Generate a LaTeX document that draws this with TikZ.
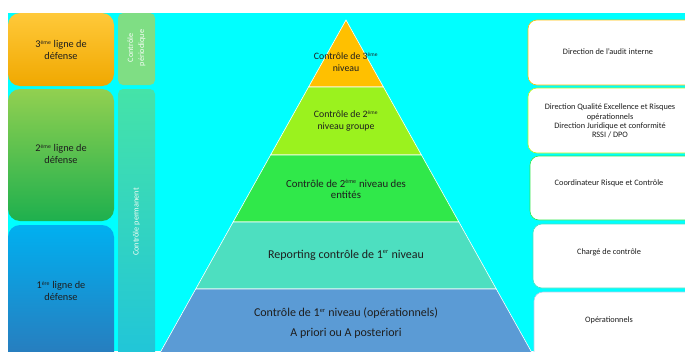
\documentclass[tikz,border=0pt]{standalone}
\usepackage{fontspec}
\setmainfont{Carlito}
\newcommand\myexp[1]{\textsuperscript{\scalebox{0.8}{#1}}}
\definecolor{bgcyan}{HTML}{00FFFF}
\definecolor{tOrange}{HTML}{FFC000}
\definecolor{tLime}{HTML}{9BF21E}
\definecolor{tGreen}{HTML}{30E84A}
\definecolor{tTeal}{HTML}{4DDFC0}
\definecolor{tBlue}{HTML}{5B9BD5}
\definecolor{oTop}{HTML}{FFC93A}
\definecolor{oBot}{HTML}{F0A800}
\definecolor{gTop}{HTML}{92D050}
\definecolor{gBot}{HTML}{1EB04E}
\definecolor{bTop}{HTML}{00B0F0}
\definecolor{bBot}{HTML}{2E75B6}
\definecolor{perio}{HTML}{7FDE84}
\definecolor{permTop}{HTML}{45E3A8}
\definecolor{permBot}{HTML}{1EC3DC}
\definecolor{txt}{HTML}{1E1E1E}
\begin{document}
\begin{tikzpicture}[x=1pt,y=-1pt,
  leftbox/.style={rounded corners=12pt},
  vbox/.style={rounded corners=5pt},
  tier/.style={draw=white, line width=0.6pt},
  rbox/.style={fill=white, rounded corners=9pt, line width=0.6pt},
  lefttxt/.style={align=center, font=\fontsize{10.3}{12}\selectfont, text=txt},
  ptxt/.style={align=center, font=\fontsize{9.8}{12}\selectfont, text=txt},
  pmid/.style={align=center, font=\fontsize{10.8}{11.5}\selectfont, text=txt},
  pbig/.style={align=center, font=\fontsize{12}{20}\selectfont, text=txt},
  rtxt/.style={align=center, font=\fontsize{8.3}{9.4}\selectfont, text=txt},
  vtxt/.style={align=center, rotate=90, font=\fontsize{8.2}{11}\selectfont, text=white!92!perio}]
\useasboundingbox (0,0) rectangle (685,351);
\begin{scope}
\clip (0,0) rectangle (685,351);
\fill[white] (0,0) rectangle (685,351);
\fill[bgcyan] (8,13) rectangle (685,351);
% left boxes
\shade[leftbox, top color=oTop, bottom color=oBot] (8,13) rectangle (114,86);
\shade[leftbox, top color=gTop, bottom color=gBot] (8,89) rectangle (114,221);
\shade[leftbox, top color=bTop, bottom color=bBot] (8,225) rectangle (114,375);
% vertical boxes
\fill[vbox, perio] (118,13) rectangle (155,85);
\shade[vbox, top color=permTop, bottom color=permBot] (118,89) rectangle (155,375);
% pyramid
\filldraw[tier, fill=tOrange] (346,20) -- (383.45,87) -- (308.55,87) -- cycle;
\filldraw[tier, fill=tLime] (308.55,87) -- (383.45,87) -- (421.45,155) -- (270.55,155) -- cycle;
\filldraw[tier, fill=tGreen] (270.55,155) -- (421.45,155) -- (458.9,222) -- (233.1,222) -- cycle;
\filldraw[tier, fill=tTeal] (233.1,222) -- (458.9,222) -- (496.3,289) -- (195.7,289) -- cycle;
\filldraw[tier, fill=tBlue] (195.7,289) -- (496.3,289) -- (541.6,370) -- (150.4,370) -- cycle;
% right boxes
\draw[rbox, draw=tOrange] (528,20) rectangle (694,85);
\draw[rbox, draw=tLime!70!yellow] (528,88) rectangle (694,153);
\draw[rbox, draw=tGreen] (530,156) rectangle (694,220);
\draw[rbox, draw=tTeal] (533,224) rectangle (694,288);
\draw[rbox, draw=tBlue!50!white] (534,292) rectangle (694,370);
\end{scope}
% left texts
\node[lefttxt] (l3) at (61,50) {3\myexp{ème} ligne de\\défense};
\node[lefttxt] (l2) at (61,154) {2\myexp{ème} ligne de\\défense};
\node[lefttxt] (l1) at (61,291) {1\myexp{ère} ligne de\\défense};
% vertical texts
\node[vtxt] (vp) at (136.5,48) {Contrôle\\périodique};
\node[vtxt] (vm) at (136.5,222) {Contrôle permanent};
% pyramid texts
\node[ptxt] (p3) at (346,62) {Contrôle de 3\myexp{ème}\\niveau};
\node[ptxt] (p2) at (346,121) {Contrôle de 2\myexp{ème}\\niveau groupe};
\node[pmid] (p2e) at (346,189) {Contrôle de 2\myexp{ème} niveau des\\entités};
\node[pbig] (p1r) at (346,255) {Reporting contrôle de 1\myexp{er} niveau};
\node[pbig] (p1) at (346,323) {Contrôle de 1\myexp{er} niveau (opérationnels)\\A priori ou A posteriori};
% right texts
\node[rtxt] (r1) at (608,52) {Direction de l’audit interne};
\node[rtxt] (r2) at (610,121) {Direction Qualité Excellence et Risques\\opérationnels\\Direction Juridique et conformité\\RSSI / DPO};
\node[rtxt] (r3) at (609,183) {Coordinateur Risque et Contrôle};
\node[rtxt] (r4) at (609,252) {Chargé de contrôle};
\node[rtxt] (r5) at (609,320) {Opérationnels};
\end{tikzpicture}
\end{document}
